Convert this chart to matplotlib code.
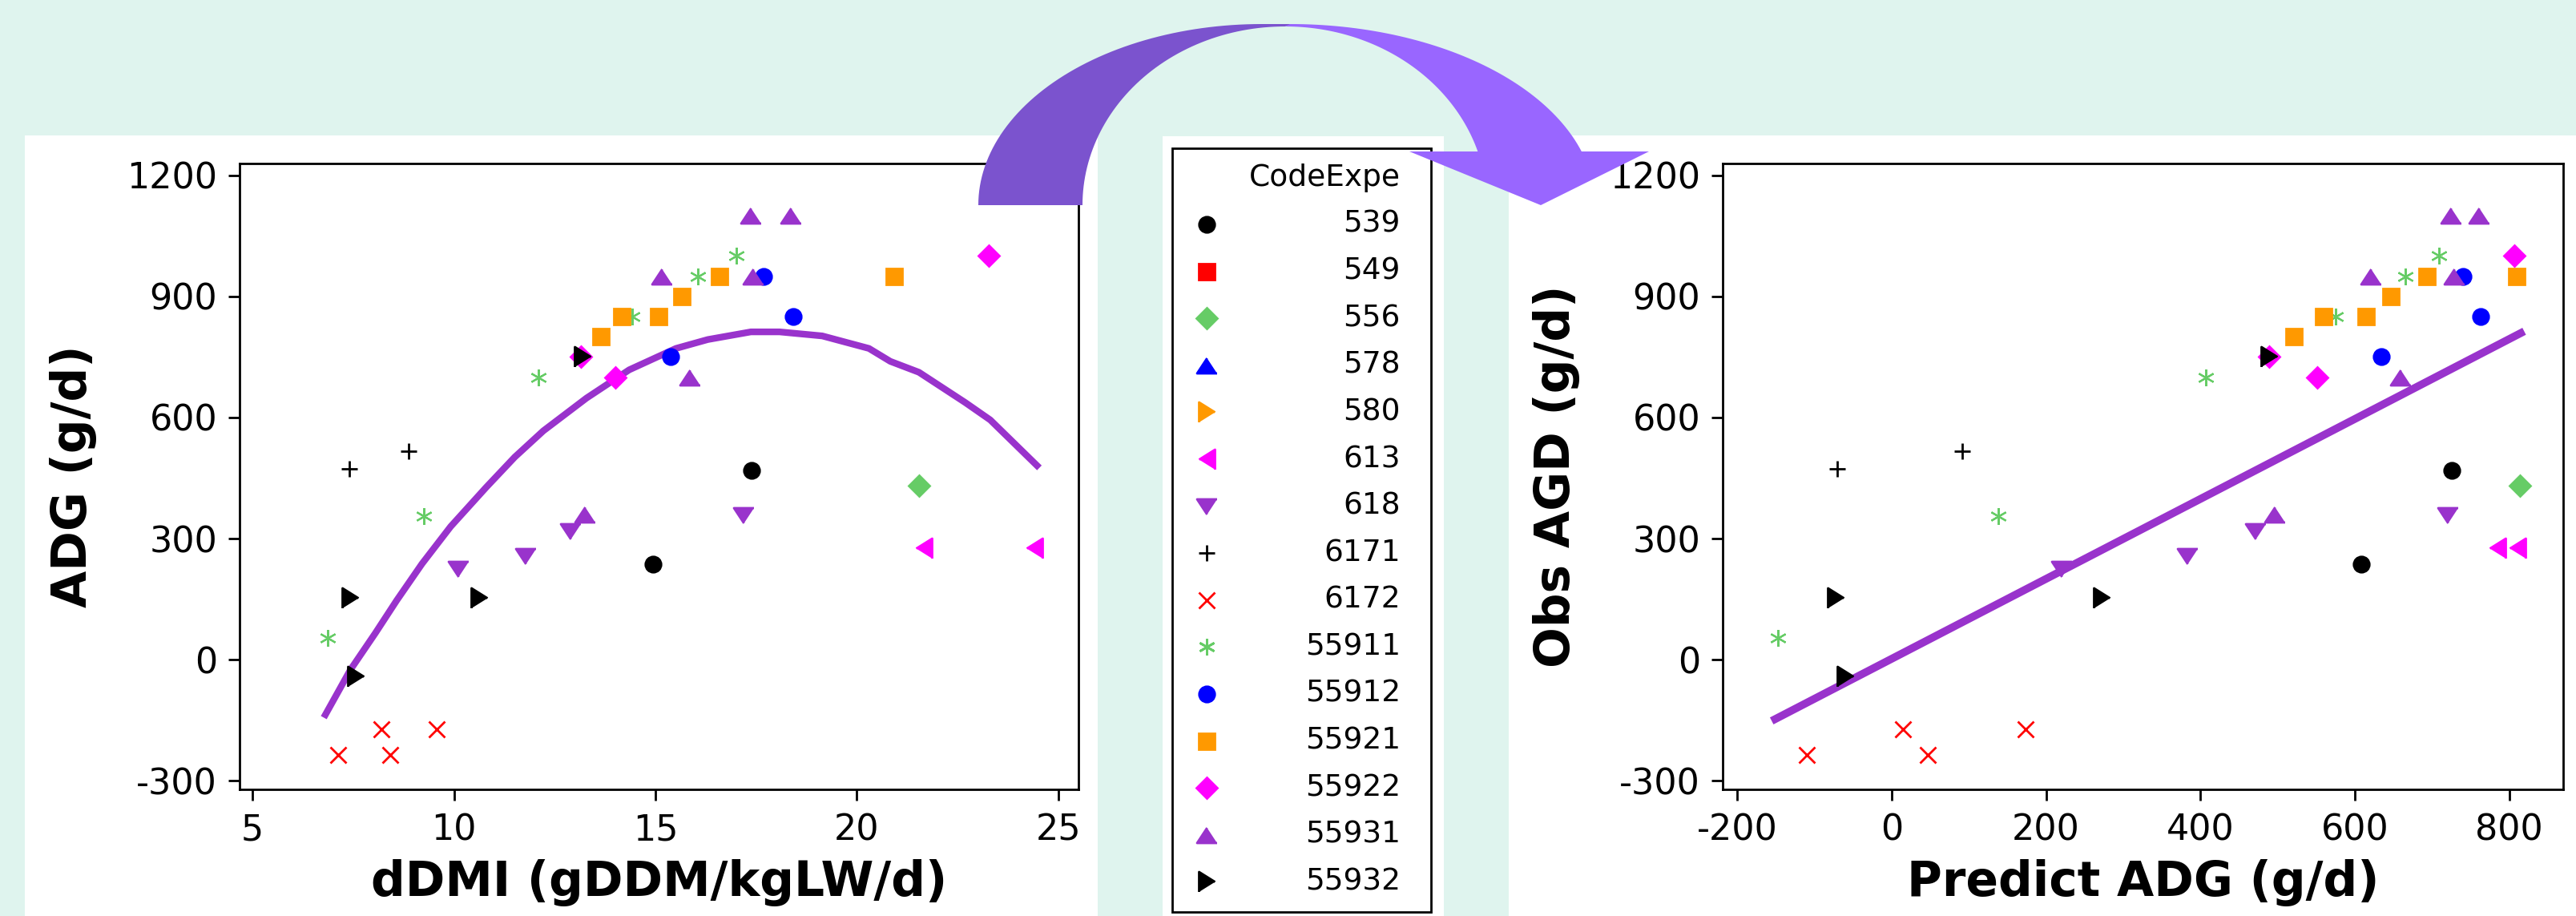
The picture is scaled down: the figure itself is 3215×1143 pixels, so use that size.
import matplotlib.pyplot as plt
import numpy as np
from matplotlib.patches import Rectangle, Polygon

plt.rcParams['font.family'] = ['DejaVu Sans']
plt.rcParams['axes.unicode_minus'] = False

# one row per observation: experiment code, dDMI, predicted ADG, observed ADG
point_code = ['55931'] * 6 + ['55912'] * 3 + ['539'] * 2 + ['55921'] * 6 + ['55911'] * 6 \
    + ['55922'] * 3 + ['556'] + ['613'] * 2 + ['618'] * 4 + ['6171'] * 2 + ['6172'] * 4 + ['55932'] * 4
ddmi = [17.37, 18.36, 15.15, 17.42, 15.86, 13.25,
        17.69, 18.43, 15.38,
        14.94, 17.39,
        16.59, 20.92, 15.65, 14.17, 15.08, 13.64,
        17.01, 16.06, 14.42, 12.10, 9.26, 6.86,
        23.28, 14.00, 13.15,
        21.54,
        21.66, 24.41,
        17.19, 12.90, 11.78, 10.11,
        7.41, 8.87,
        7.13, 8.41, 8.19, 9.58,
        7.43, 10.63, 7.57, 13.20]
pred_adg = [725, 761, 621, 729, 659, 496,
            740, 763, 634,
            608, 726,
            693, 810, 647, 560, 615, 521,
            709, 666, 575, 407, 138, -147,
            807, 551, 489,
            814,
            785, 811,
            720, 471, 383, 220,
            -71, 91,
            -110, 47, 15, 173,
            -73, 272, -60, 489]
obs_adg = [1100, 1100, 950, 950, 700, 360,
           950, 850, 750,
           236, 469,
           950, 950, 900, 850, 850, 800,
           1000, 950, 850, 700, 355, 55,
           1000, 700, 750,
           432,
           276, 276,
           357, 319, 257, 224,
           472, 516,
           -235, -235, -173, -173,
           154, 154, -42, 750]

# quadratic fit of ADG on dDMI (left panel), as drawn
curve_x = [6.81, 7.43, 8.05, 8.58, 9.21, 9.92, 10.80, 11.51, 12.22, 13.29, 14.35,
           15.51, 16.30, 17.37, 18.08, 19.14, 20.30, 20.83, 21.54, 22.69, 23.31, 24.47]
curve_y = [-136, -25, 66, 147, 238, 330, 427, 502, 567, 648, 718,
           771, 793, 812, 812, 802, 771, 739, 712, 637, 594, 481]
# fitted line obs vs predicted (right panel)
line_x = [-151, 815]
line_y = [-147, 809]

codes = ['539', '549', '556', '578', '580', '613', '618', '6171', '6172',
         '55911', '55912', '55921', '55922', '55931', '55932']
colors = ['black', '#ff0000', '#66cc66', '#0000ff', '#ff9900', '#ff00ff', '#9933cc', 'black', '#ff0000',
          '#66cc66', '#0000ff', '#ff9900', '#ff00ff', '#9933cc', 'black']

# Minitab-like (slightly squat) triangles
up_tri = [(0, 0.76), (-1, -0.76), (1, -0.76)]
down_tri = [(0, -0.76), (-1, 0.76), (1, 0.76)]
right_tri = [(0.8, 0), (-0.8, 1), (-0.8, -1)]
left_tri = [(-0.8, 0), (0.8, 1), (0.8, -1)]
markers = ['o', 's', 'D', up_tri, right_tri, left_tri, down_tri, '+', 'x',
           (6, 2, 0), 'o', 's', 'D', up_tri, right_tri]
sizes = [14, 14.5, 13, 18, 18, 18, 18, 14, 15, 15, 14, 14.5, 13, 18, 18]

W, H = 3215, 1143
MINT = '#dff4ee'
PURPLE = '#9933cc'

fig = plt.figure(figsize=(W / 100, H / 100), dpi=100, facecolor=MINT)


def px_box(x0, y0, x1, y1):
    return [x0 / W, 1 - y1 / H, (x1 - x0) / W, (y1 - y0) / H]


bg = fig.add_axes([0, 0, 1, 1], zorder=0)
bg.set_xlim(0, W)
bg.set_ylim(H, 0)
bg.axis('off')
for x0, y0, x1, y1 in [(31, 169, 1370, H), (1451, 170, 1802, H), (1883, 169, W, H)]:
    bg.add_patch(Rectangle((x0, y0), x1 - x0, y1 - y0, facecolor='white', edgecolor='none'))

# legend box
bg.add_patch(Rectangle((1463, 185), 323, 953, facecolor='white', edgecolor='black', lw=2))
bg.text(1748, 222, 'CodeExpe', ha='right', va='center', fontsize=27)
for i, c in enumerate(codes):
    yy = 280 + i * 58.6
    bg.plot([1506], [yy], ls='none', marker=markers[i], ms=sizes[i], color=colors[i], mew=2)
    bg.text(1748, yy, c, ha='right', va='center', fontsize=27)


def setup(ax, xlim, xticks, xlabel, ylabel):
    ax.set_xlim(*xlim)
    ax.set_ylim(-321, 1229)
    ax.set_xticks(xticks)
    ax.set_yticks([-300, 0, 300, 600, 900, 1200])
    for s in ax.spines.values():
        s.set_linewidth(2)
        s.set_color('black')
    ax.tick_params(axis='both', labelsize=32, length=10, width=2, direction='out')
    ax.tick_params(axis='y', pad=10)
    ax.tick_params(axis='x', pad=11)
    ax.set_xlabel(xlabel, fontsize=43, fontweight='bold')
    ax.set_ylabel(ylabel, fontsize=43, fontweight='bold')
    ax.xaxis.set_label_coords(0.5, -0.112)
    ax.yaxis.set_label_coords(-0.17, 0.5)


pc = np.array(point_code)
x_left = np.array(ddmi)
x_right = np.array(pred_adg)
y_obs = np.array(obs_adg)

ax1 = fig.add_axes(px_box(299, 204, 1346, 985), zorder=1)
ax1.plot(curve_x, curve_y, color=PURPLE, lw=6, zorder=2)
ax2 = fig.add_axes(px_box(2150, 204, 3199, 985), zorder=1)
ax2.plot(line_x, line_y, color=PURPLE, lw=7, zorder=2)

for i, c in enumerate(codes):
    m = pc == c
    if not m.any():
        continue
    mew = 1.6 if c == '55911' else 2
    for ax, xs in ((ax1, x_left), (ax2, x_right)):
        ax.plot(xs[m], y_obs[m], ls='none', marker=markers[i], ms=sizes[i],
                color=colors[i], mew=mew, zorder=3)

setup(ax1, (4.68, 25.5), [5, 10, 15, 20, 25], 'dDMI (gDDM/kgLW/d)', 'ADG (g/d)')
setup(ax2, (-219, 870), [-200, 0, 200, 400, 600, 800], 'Predict ADG (g/d)', 'Obs AGD (g/d)')

# curved arrow from left panel to right panel
ov = fig.add_axes([0, 0, 1, 1], zorder=5)
ov.set_xlim(0, W)
ov.set_ylim(H, 0)
ov.axis('off')
ov.patch.set_alpha(0)

t = np.linspace(np.pi, np.pi / 2, 60)
outer = np.c_[1575 + 354 * np.cos(t), 256 - 226 * np.sin(t)]
t2 = np.linspace(np.pi / 2, np.pi, 60)
inner = np.c_[1604 + 253 * np.cos(t2), 256 - 223 * np.sin(t2)]
dark = np.vstack([outer, [[1612, 30]], inner])
ov.add_patch(Polygon(dark, closed=True, facecolor='#7b53ce', edgecolor='none'))

t = np.linspace(np.pi / 2, 0.301, 60)
outer = np.c_[1610 + 381 * np.cos(t), 256 - 226 * np.sin(t)]
t2 = np.linspace(0.305, np.pi / 2, 60)
inner = np.c_[1604 + 252 * np.cos(t2), 256 - 223 * np.sin(t2)]
head = [[2058, 189], [1923, 256], [1759, 189]]
light = np.vstack([outer, head, inner])
ov.add_patch(Polygon(light, closed=True, facecolor='#9966ff', edgecolor='none'))

fig.savefig('out.png', dpi=100, facecolor=MINT)
